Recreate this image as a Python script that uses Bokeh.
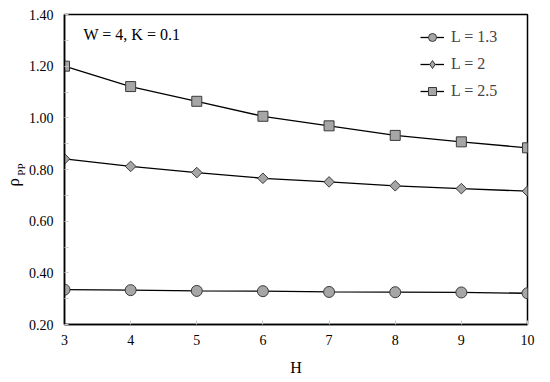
import numpy as np
from bokeh.plotting import figure
from bokeh.models import (Label, Legend, LegendItem, FixedTicker, Range1d,
                          NumeralTickFormatter, LinearAxis)
from bokeh.embed import file_html
from bokeh.resources import INLINE

H = [3, 4, 5, 6, 7, 8, 9, 10]
rho_L13 = [0.335, 0.333, 0.330, 0.329, 0.326, 0.325, 0.324, 0.321]
rho_L2 = [0.841, 0.812, 0.788, 0.766, 0.752, 0.737, 0.726, 0.716]
rho_L25 = [1.200, 1.121, 1.064, 1.006, 0.969, 0.932, 0.907, 0.884]
y_ticks = [0.2, 0.4, 0.6, 0.8, 1.0, 1.2, 1.4]
y_minor = [0.3, 0.5, 0.7, 0.9, 1.1, 1.3]
x_ticks = [3, 4, 5, 6, 7, 8, 9, 10]

FONT = "Liberation Serif"

p = figure(width=550, height=382, output_backend="svg", toolbar_location=None,
           x_range=Range1d(3, 10), y_range=Range1d(0.2, 1.4),
           min_border_left=64, min_border_right=23, min_border_top=14, min_border_bottom=58)
p.grid.visible = False
p.outline_line_color = "black"
p.outline_line_width = 1.5

for ax in (p.xaxis[0], p.yaxis[0]):
    ax.axis_line_color = "black"
    ax.axis_line_width = 1.5
    ax.major_tick_in = 4
    ax.major_tick_out = 0
    ax.major_tick_line_color = "#c8c8c8"
    ax.minor_tick_in = 4
    ax.minor_tick_out = 0
    ax.minor_tick_line_color = "#c8c8c8"
    ax.major_label_text_font = FONT
    ax.major_label_text_font_size = "14px"
    ax.major_label_text_color = "black"
    ax.axis_label_text_font = FONT
    ax.axis_label_text_font_style = "normal"
    ax.axis_label_text_color = "black"

p.xaxis.ticker = FixedTicker(ticks=x_ticks)
p.yaxis.ticker = FixedTicker(ticks=y_ticks, minor_ticks=y_minor)
p.yaxis.formatter = NumeralTickFormatter(format="0.00")
p.xaxis.major_label_standoff = 10
p.yaxis.major_label_standoff = 11
p.xaxis.axis_label = "H"
p.xaxis.axis_label_text_font_size = "16px"
p.xaxis.axis_label_standoff = 11

# y label: rho with subscript PP (subscript on inner axis, rho on an outer bare axis)
p.yaxis.axis_label = "PP"
p.yaxis.axis_label_text_font_size = "11px"
p.yaxis.axis_label_standoff = -1
rho_axis = LinearAxis(ticker=FixedTicker(ticks=[]), axis_line_color=None,
                      major_tick_line_color=None, minor_tick_line_color=None,
                      axis_label="ρ" + "\u00a0" * 6, axis_label_text_font=FONT,
                      axis_label_text_font_size="17px", axis_label_text_font_style="normal",
                      axis_label_text_color="black", axis_label_standoff=-11)
p.add_layout(rho_axis, "left")

fill = "#a6a6a6"
edge = "#3a3a3a"

r1l = p.line(H, rho_L13, line_color="black", line_width=1.3)
r1m = p.scatter(H, rho_L13, marker="circle", size=11, fill_color=fill, line_color=edge, line_width=1)
r2l = p.line(H, rho_L2, line_color="black", line_width=1.3)
r2m = p.scatter(H, rho_L2, marker="square", angle=np.pi / 4, size=7.5, fill_color=fill, line_color=edge, line_width=1)
r2leg = p.scatter(H, rho_L2, marker="diamond", size=12, fill_color=fill, line_color=edge, line_width=1,
                  visible=False)
r3l = p.line(H, rho_L25, line_color="black", line_width=1.3)
r3m = p.scatter(H, rho_L25, marker="square", size=10, fill_color=fill, line_color=edge, line_width=1)

legend = Legend(items=[
    LegendItem(label="L = 1.3", renderers=[r1l, r1m]),
    LegendItem(label="L = 2", renderers=[r2l, r2leg]),
    LegendItem(label="L = 2.5", renderers=[r3l, r3m]),
], location=(356, 223), margin=0, padding=5, spacing=7, label_height=20,
    glyph_width=24, glyph_height=20, label_standoff=7,
    label_text_font=FONT, label_text_font_size="16px",
    border_line_color=None, background_fill_alpha=0, inactive_fill_alpha=0)
p.add_layout(legend, "center")

p.add_layout(Label(x=19, y=310 - 20, x_units="screen", y_units="screen",
                   text="W = 4, K = 0.1", text_font=FONT, text_font_size="16px",
                   text_baseline="middle", text_color="black"))

open("out.html", "w").write(file_html(p, INLINE))
